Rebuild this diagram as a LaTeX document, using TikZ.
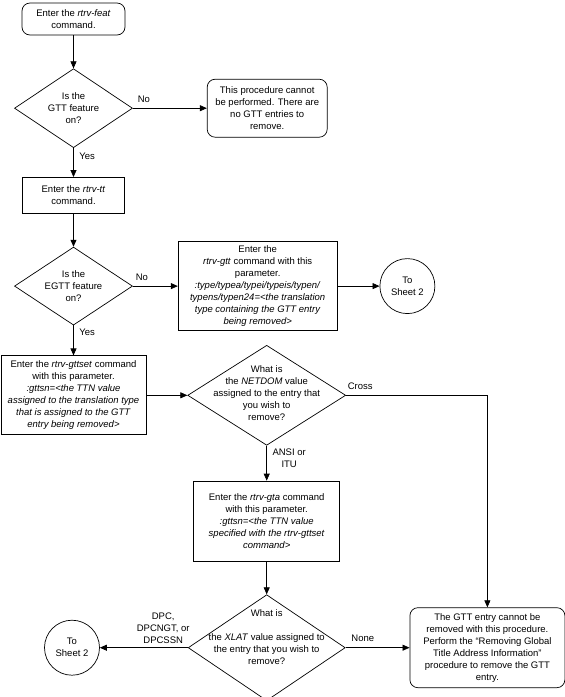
\documentclass[tikz,border=0pt]{standalone}
\usepackage{fontspec}
\setmainfont{Liberation Sans}
\usetikzlibrary{positioning, shapes.geometric, arrows.meta}

\begin{document}
\begin{tikzpicture}[
    font=\fontsize{9.5}{12}\selectfont,
    roundbox/.style={draw=black, line width=0.7pt, rectangle, rounded corners=8pt, align=center, inner sep=2pt},
    cmdbox/.style={draw=black, line width=0.7pt, rectangle, align=center, inner sep=2pt},
    decision/.style={draw=black, line width=0.7pt, diamond, inner sep=0pt},
    dtext/.style={align=center, inner sep=0pt},
    sheet/.style={draw=black, line width=0.7pt, circle, minimum size=55pt, inner sep=0pt, align=center},
    edge/.style={line width=0.7pt, -{Triangle[length=7pt, width=6pt]}},
    edgelabel/.style={align=center, inner sep=1.5pt}
]
\useasboundingbox (0,0) rectangle (565pt,-697pt);

% Knoten
\node[roundbox, minimum width=103pt, minimum height=32pt] (start) at (73.5pt,-19pt) {Enter the \textit{rtrv-feat}\\command.};
\node[decision, minimum width=118pt, minimum height=79pt, below=33pt of start, label={[dtext]center:{Is the\\GTT feature\\on?}}] (gtt) {};
\node[roundbox, minimum width=120pt, minimum height=58pt, right=74pt of gtt] (noentry) {This procedure cannot\\be performed. There are\\no GTT entries to\\remove.};
\node[cmdbox, minimum width=102pt, minimum height=36pt, below=29pt of gtt] (rtrvtt) {Enter the \textit{rtrv-tt}\\command.};
\node[decision, minimum width=118pt, minimum height=78pt, below=33pt of rtrvtt, label={[dtext]center:{Is the\\EGTT feature\\on?}}] (egtt) {};
\node[cmdbox, minimum width=159pt, minimum height=89pt, right=45pt of egtt] (rtrvgtt) {Enter the\\\textit{rtrv-gtt} command with this\\parameter.\\\textit{:type/typea/typei/typeis/typen/}\\\textit{typens/typen24=<the translation}\\\textit{type containing the GTT entry}\\\textit{being removed>}};
\node[sheet, right=42pt of rtrvgtt] (sheetA) {To\\Sheet 2};
\node[cmdbox, minimum width=145pt, minimum height=79pt, below=30pt of egtt] (gttset) {Enter the \textit{rtrv-gttset} command\\with this parameter.\\\textit{:gttsn=<the TTN value}\\\textit{assigned to the translation type}\\\textit{that is assigned to the GTT}\\\textit{entry being removed>}};
\node[decision, minimum width=158pt, minimum height=100pt, right=41pt of gttset, label={[dtext, yshift=2pt]center:{What is\\the \textit{NETDOM} value\\assigned to the entry that\\you wish to\\remove?}}] (netdom) {};
\node[cmdbox, minimum width=146pt, minimum height=80pt, below=35pt of netdom] (gta) {Enter the \textit{rtrv-gta} command\\with this parameter.\\\textit{:gttsn=<the TTN value}\\\textit{specified with the rtrv-gttset}\\\textit{command>}};
\node[decision, minimum width=157pt, minimum height=106pt, below=33pt of gta, label={[dtext, yshift=11pt]center:{What is\\[12pt]the \textit{XLAT} value assigned to\\the entry that you wish to\\remove?}}] (xlat) {};
\node[roundbox, minimum width=155pt, minimum height=80pt, right=64pt of xlat] (cannot) {The GTT entry cannot be\\removed with this procedure.\\Perform the “Removing Global\\Title Address Information”\\procedure to remove the GTT\\entry.};
\node[sheet, left=88pt of xlat] (sheetB) {To\\Sheet 2};

% Verbindungen
\draw[edge] (start.south) -- (gtt.north);
\draw[edge] (gtt.east) -- (noentry.west) node[pos=0.15, above=4pt, edgelabel] {No};
\draw[edge] (gtt.south) -- (rtrvtt.north) node[pos=0.28, right=4pt, edgelabel] {Yes};
\draw[edge] (rtrvtt.south) -- (egtt.north);
\draw[edge] (egtt.east) -- (rtrvgtt.west) node[pos=0.2, above=4pt, edgelabel] {No};
\draw[edge] (rtrvgtt.east) -- (sheetA.west);
\draw[edge] (egtt.south) -- (gttset.north) node[pos=0.23, right=4pt, edgelabel] {Yes};
\draw[edge] (gttset.east) -- (netdom.west);
\draw[edge] (netdom.east) -| (cannot.north) node[pos=0.05, above=4pt, edgelabel] {Cross};
\draw[edge] (netdom.south) -- (gta.north) node[pos=0.36, right=4pt, edgelabel] {ANSI or\\ITU};
\draw[edge] (gta.south) -- (xlat.north);
\draw[edge] (xlat.east) -- (cannot.west) node[pos=0.27, above=4pt, edgelabel] {None};
\draw[edge] (xlat.west) -- (sheetB.east) node[pos=0.28, above=2pt, edgelabel] {DPC,\\DPCNGT, or\\DPCSSN};

\end{tikzpicture}
\end{document}
